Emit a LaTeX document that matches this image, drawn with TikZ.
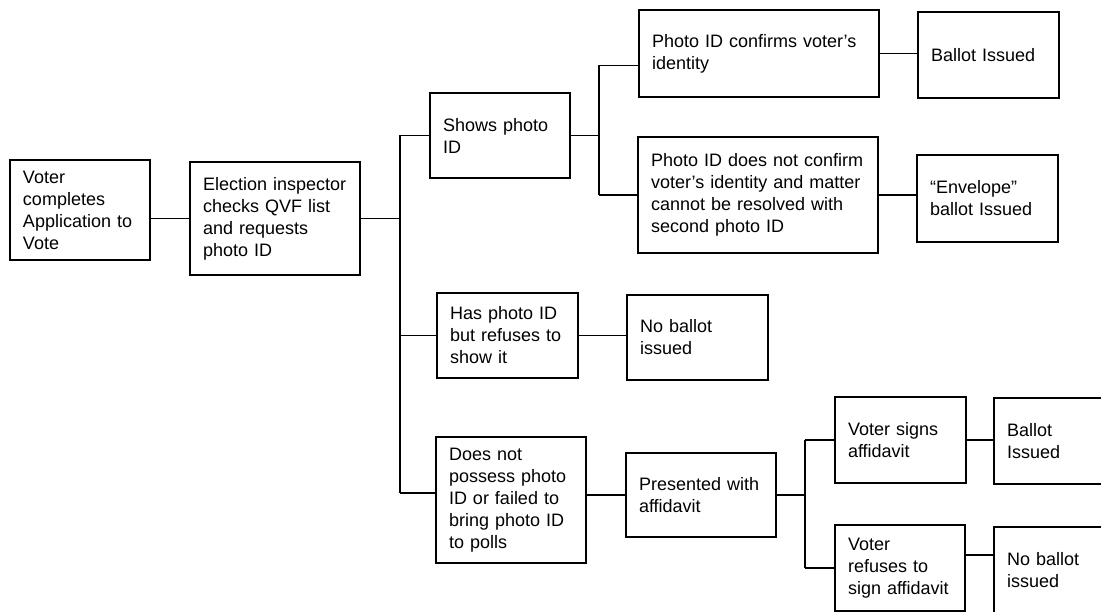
\documentclass[tikz,border=0pt]{standalone}
\usepackage{fontspec}
\setmainfont{Liberation Sans}
\begin{document}
\begin{tikzpicture}[x=1pt,y=-1pt,
  box/.style={draw, line width=1.3pt, anchor=north west, align=left,
    inner xsep=13pt, inner ysep=0pt, outer sep=0pt,
    font=\fontsize{18}{22}\selectfont},
  link/.style={line width=1.3pt}]
\useasboundingbox (0,0) rectangle (1101,612);
\clip (0,0) rectangle (1101,612);
\fill[white] (0,0) rectangle (1101,612);
% boxes
\node[box, text width=114pt, minimum height=100pt] (b1) at (10,160) {Voter\\completes\\Application to\\Vote};
\node[box, text width=144pt, minimum height=113pt] (b2) at (190,162) {Election inspector\\checks QVF list\\and requests\\photo ID};
\node[box, text width=114pt, minimum height=85pt] (b3) at (430,93) {Shows photo\\ID};
\node[box, text width=214pt, minimum height=87pt] (b4) at (639,10) {Photo ID confirms voter’s\\identity\\[4pt]};
\node[box, text width=115pt, minimum height=86pt] (b5) at (918,12) {Ballot Issued\\[6pt]};
\node[box, text width=214pt, minimum height=116pt] (b6) at (638,137) {Photo ID does not confirm\\voter’s identity and matter\\cannot be resolved with\\second photo ID};
\node[box, text width=115pt, minimum height=87pt] (b7) at (917,155) {“Envelope”\\ballot Issued};
\node[box, text width=115pt, minimum height=85pt] (b8) at (437,293) {Has photo ID\\but refuses to\\show it};
\node[box, text width=115pt, minimum height=85pt] (b9) at (627,295) {No ballot\\issued};
\node[box, text width=124pt, minimum height=126pt] (b10) at (436,437) {Does not\\possess photo\\ID or failed to\\bring photo ID\\to polls};
\node[box, text width=124pt, minimum height=84pt] (b11) at (626,453) {Presented with\\affidavit\\[4pt]};
\node[box, text width=105pt, minimum height=86pt] (b12) at (835,397) {Voter signs\\affidavit};
\node[box, text width=140pt, minimum height=86pt] (b13) at (994,398) {Ballot\\Issued};
\node[box, text width=104pt, minimum height=86pt] (b14) at (835,525) {Voter\\refuses to\\sign affidavit};
\node[box, text width=140pt, minimum height=86pt] (b15) at (994,527) {No ballot\\issued};
% junction points
\coordinate (busA) at (400,0);
\coordinate (busB) at (599,0);
\coordinate (busC) at (805,0);
% connectors
\draw[link] (b1.east |- b2.west) -- (b2.west);
\draw[link] (b2.east) -- (b2.east -| busA);
\draw[link] (b3.west -| busA) -- ([yshift=7pt]b10.west -| busA);
\draw[link] (b3.west) -- (b3.west -| busA);
\draw[link] (b8.west) -- (b8.west -| busA);
\draw[link] ([yshift=7pt]b10.west) -- ([yshift=7pt]b10.west -| busA);
\draw[link] (b3.east) -- (b3.east -| busB);
\draw[link] ([yshift=-12pt]b4.west -| busB) -- (b6.west -| busB);
\draw[link] ([yshift=-12pt]b4.west) -- ([yshift=-12pt]b4.west -| busB);
\draw[link] (b6.west) -- (b6.west -| busB);
\draw[link] (b4.east) -- (b4.east -| b5.west);
\draw[link] (b6.east) -- (b6.east -| b7.west);
\draw[link] (b8.east) -- (b8.east -| b9.west);
\draw[link] (b11.west) -- (b11.west -| b10.east);
\draw[link] (b11.east) -- (b11.east -| busC);
\draw[link] (b12.west -| busC) -- (b14.west -| busC);
\draw[link] (b12.west) -- (b12.west -| busC);
\draw[link] (b14.west) -- (b14.west -| busC);
\draw[link] (b12.east) -- (b12.east -| b13.west);
\draw[link] ([yshift=13pt]b14.east) -- ([yshift=13pt]b14.east -| b15.west);
\end{tikzpicture}
\end{document}
